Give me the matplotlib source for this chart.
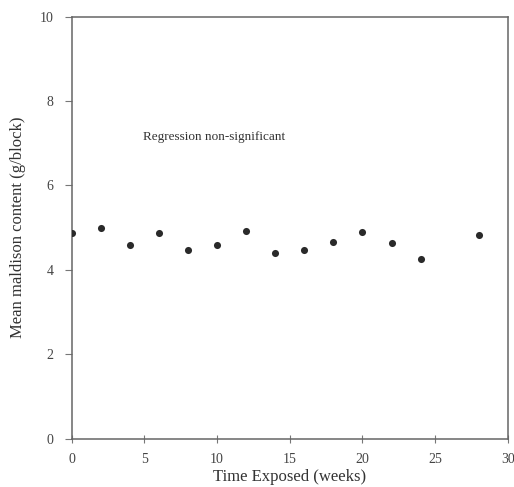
import matplotlib
matplotlib.use("Agg")
import matplotlib.pyplot as plt

weeks = [0, 2, 4, 6, 8, 10, 12, 14, 16, 18, 20, 22, 24, 28]
malathion = [4.88, 4.99, 4.58, 4.88, 4.48, 4.58, 4.93, 4.39, 4.46, 4.66, 4.90, 4.63, 4.27, 4.82]
xticks = [0, 5, 10, 15, 20, 25, 30]
yticks = [0, 2, 4, 6, 8, 10]

plt.rcParams['font.family'] = ['Liberation Serif', 'DejaVu Serif']

fig = plt.figure(figsize=(5.14, 4.87), dpi=100)
ax = fig.add_axes([0.1395, 0.0992, 0.8485, 0.8665])

ax.scatter(weeks, malathion, s=26, color='#2a2a2a', zorder=3, linewidths=0)
ax.set_xlim(0, 30)
ax.set_ylim(0, 10)
ax.set_xticks(xticks)
ax.set_yticks(yticks)
for s in ax.spines.values():
    s.set_color('#666666')
    s.set_linewidth(1.1)
ax.tick_params(axis='y', direction='out', length=5, width=0.8, color='#777777',
               labelsize=10, labelcolor='#444444', pad=8)
ax.tick_params(axis='x', direction='inout', length=6, width=0.8, color='#777777',
               labelsize=10, labelcolor='#444444', pad=7)
ax.set_xlabel('Time Exposed (weeks)', fontsize=12, color='#333333', labelpad=2.5)
ax.set_ylabel('Mean maldison content (g/block)', fontsize=12, color='#333333', labelpad=10)
ax.text(4.9, 7.15, 'Regression non-significant', fontsize=9.5, color='#333333',
        va='center', ha='left')

fig.savefig('out.png', dpi=100)
